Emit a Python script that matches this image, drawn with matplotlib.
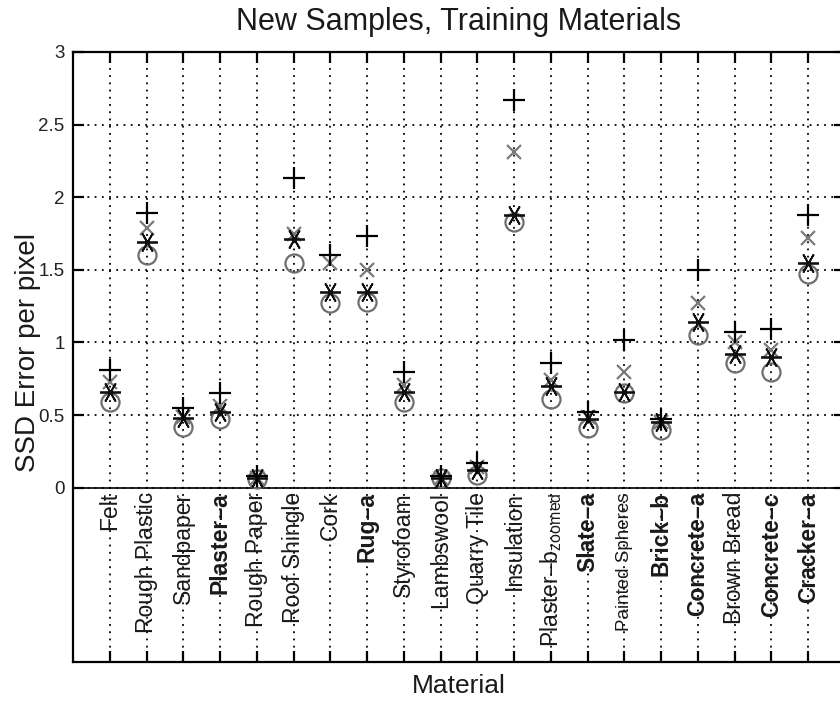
import numpy as np
import matplotlib
matplotlib.use("Agg")
import matplotlib.pyplot as plt

# ======================
# DATA
# ======================
materials = [
    "Felt", "Rough Plastic", "Sandpaper", "Plaster–a", "Rough Paper",
    "Roof Shingle", "Cork", "Rug–a", "Styrofoam", "Lambswool",
    "Quarry Tile", "Insulation", r"Plaster–b$_{\mathrm{zoomed}}$", "Slate–a",
    "Painted Spheres", "Brick–b", "Concrete–a", "Brown Bread", "Concrete–c",
    "Cracker–a",
]
heavy_labels = {"Plaster–a", "Rug–a", "Slate–a", "Brick–b",
                "Concrete–a", "Concrete–c", "Cracker–a"}
small_labels = {"Painted Spheres"}

plus_vals = [0.81, 1.89, 0.55, 0.65, 0.08, 2.13, 1.60, 1.73, 0.80, 0.08,
             0.17, 2.67, 0.86, 0.52, 1.02, 0.47, 1.50, 1.07, 1.09, 1.88]
cross_vals = [0.73, 1.79, 0.49, 0.56, 0.07, 1.75, 1.55, 1.50, 0.71, 0.07,
              0.14, 2.31, 0.74, 0.49, 0.80, 0.45, 1.27, 1.00, 0.95, 1.72]
star_vals = [0.66, 1.69, 0.48, 0.52, 0.07, 1.71, 1.35, 1.35, 0.66, 0.07,
             0.12, 1.88, 0.70, 0.47, 0.66, 0.45, 1.14, 0.92, 0.90, 1.55]
circle_vals = [0.59, 1.60, 0.42, 0.47, 0.06, 1.55, 1.27, 1.28, 0.59, 0.07,
               0.09, 1.83, 0.61, 0.41, 0.65, 0.40, 1.05, 0.86, 0.80, 1.47]

yticks = [0, 0.5, 1, 1.5, 2, 2.5, 3]
ytick_labels = ["0", "0.5", "1", "1.5", "2", "2.5", "3"]

# ======================
# STYLE
# ======================
plt.rcParams["font.family"] = ["Liberation Sans", "DejaVu Sans"]
plt.rcParams["mathtext.fontset"] = "custom"
plt.rcParams["mathtext.rm"] = "Liberation Sans"

W, H = 840, 701
fig = plt.figure(figsize=(W / 100, H / 100), dpi=100)
ax = fig.add_axes([73 / W, 1 - 662 / H, (845 - 73) / W, (662 - 52) / H])

x = np.arange(1, len(materials) + 1)

# dotted grid, drawn by hand so it also runs under the labels
for xi in x:
    ax.axvline(xi, color="black", lw=1.3, ls=(0, (1, 3)), zorder=1)
for yv in yticks:
    ax.axhline(yv, color="black", lw=1.3, ls=(0, (1, 3)), zorder=1)
ax.axhline(0, color="black", lw=1.2, zorder=2)

ax.plot(x, circle_vals, ls="none", marker="o", ms=13, mfc="none",
        mec="#6e6e6e", mew=1.6, zorder=3)
ax.plot(x, cross_vals, ls="none", marker="x", ms=10, mec="#7a7a7a",
        mew=1.6, zorder=4)
ax.plot(x, star_vals, ls="none", marker=(6, 2, 90), ms=15, mec="#111111",
        mew=1.3, zorder=5)
ax.plot(x, plus_vals, ls="none", marker="+", ms=16, mec="black",
        mew=1.6, zorder=6)

ax.set_xlim(0, len(materials) + 1)
ax.set_ylim(-1.2, 3)
ax.set_xticks(x)
ax.set_xticklabels([])
ax.set_yticks(yticks)
ax.set_yticklabels(ytick_labels, fontsize=13.5, color="#222222")
ax.tick_params(axis="both", direction="in", length=8, width=1.6,
               top=True, right=True)
ax.tick_params(axis="y", pad=6)
for sp in ax.spines.values():
    sp.set_linewidth(1.6)

# material labels inside the axes, below zero
for xi, name in zip(x, materials):
    size = 13.5 if name in small_labels else 16.5
    weight = "bold" if name in heavy_labels else "normal"
    ax.text(xi, -0.03, name, rotation=90, ha="center", va="top",
            fontsize=size, fontweight=weight, color="#1a1a1a", zorder=7)

fig.text(459 / W, 1 - 22 / H, "New Samples, Training Materials",
         ha="center", va="center", fontsize=22, color="#1a1a1a")
fig.text(28 / W, 1 - 353 / H, "SSD Error per pixel", rotation=90,
         ha="center", va="center", fontsize=20, color="#1a1a1a")
fig.text(459 / W, 1 - 686 / H, "Material", ha="center", va="center",
         fontsize=19, color="#1a1a1a")

plt.savefig("out.png", dpi=100)
plt.close()
